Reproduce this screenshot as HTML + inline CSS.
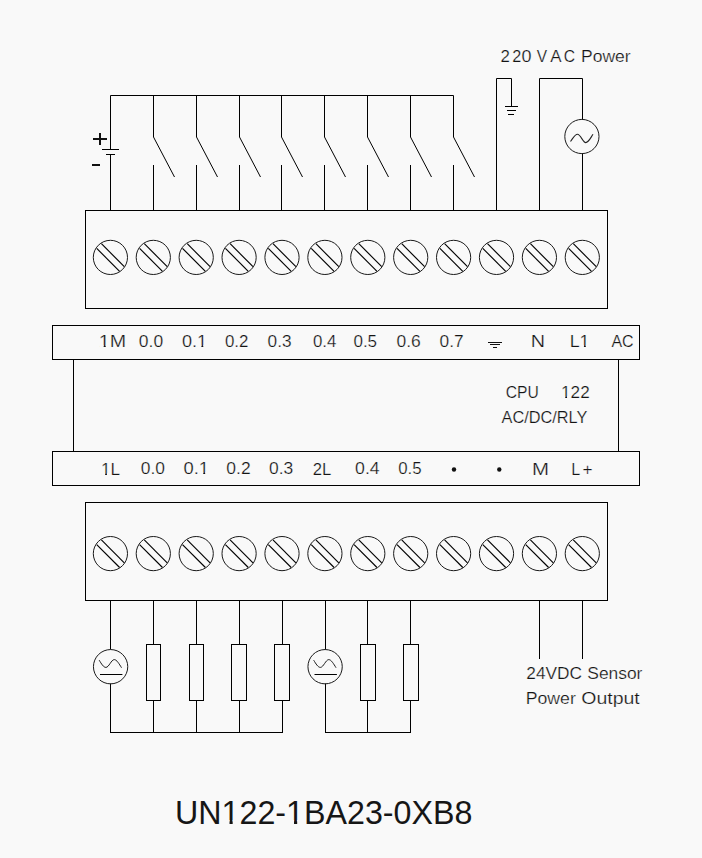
<!DOCTYPE html>
<html><head><meta charset="utf-8"><style>
html,body{margin:0;padding:0;background:#f9f9f9;}
body{width:702px;height:858px;overflow:hidden;}
svg{display:block;}
text{font-family:"Liberation Sans",sans-serif;}
text.s{stroke:#f9f9f9;stroke-width:0.22px;}
</style></head><body>
<svg width="702" height="858" viewBox="0 0 702 858">
<rect width="702" height="858" fill="#f9f9f9"/>
<polyline fill="none" stroke="#000" stroke-width="1" points="110.5,149 110.5,95.5 453.5,95.5"/>
<line x1="110.5" y1="154" x2="110.5" y2="210" stroke="#000" stroke-width="1"/>
<line x1="102" y1="149.5" x2="119" y2="149.5" stroke="#000" stroke-width="1"/>
<line x1="106" y1="154.5" x2="115" y2="154.5" stroke="#000" stroke-width="1"/>
<rect x="93" y="138" width="14" height="2" fill="#111"/>
<rect x="99" y="133" width="2" height="12" fill="#111"/>
<rect x="92" y="164" width="8" height="2" fill="#111"/>
<polyline fill="none" stroke="#000" stroke-width="1" points="153.5,95.5 153.5,137 174.5,177"/>
<line x1="153.5" y1="165" x2="153.5" y2="210" stroke="#000" stroke-width="1"/>
<polyline fill="none" stroke="#000" stroke-width="1" points="196.5,95.5 196.5,137 217.5,177"/>
<line x1="196.5" y1="165" x2="196.5" y2="210" stroke="#000" stroke-width="1"/>
<polyline fill="none" stroke="#000" stroke-width="1" points="239.5,95.5 239.5,137 260.5,177"/>
<line x1="239.5" y1="165" x2="239.5" y2="210" stroke="#000" stroke-width="1"/>
<polyline fill="none" stroke="#000" stroke-width="1" points="281.5,95.5 281.5,137 302.5,177"/>
<line x1="281.5" y1="165" x2="281.5" y2="210" stroke="#000" stroke-width="1"/>
<polyline fill="none" stroke="#000" stroke-width="1" points="324.5,95.5 324.5,137 345.5,177"/>
<line x1="324.5" y1="165" x2="324.5" y2="210" stroke="#000" stroke-width="1"/>
<polyline fill="none" stroke="#000" stroke-width="1" points="367.5,95.5 367.5,137 388.5,177"/>
<line x1="367.5" y1="165" x2="367.5" y2="210" stroke="#000" stroke-width="1"/>
<polyline fill="none" stroke="#000" stroke-width="1" points="410.5,95.5 410.5,137 431.5,177"/>
<line x1="410.5" y1="165" x2="410.5" y2="210" stroke="#000" stroke-width="1"/>
<polyline fill="none" stroke="#000" stroke-width="1" points="453.5,95.5 453.5,137 474.5,177"/>
<line x1="453.5" y1="165" x2="453.5" y2="210" stroke="#000" stroke-width="1"/>
<polyline fill="none" stroke="#000" stroke-width="1" points="496.5,210 496.5,78.5 511.5,78.5 511.5,106.5"/>
<line x1="505" y1="106.5" x2="518" y2="106.5" stroke="#000" stroke-width="1"/>
<line x1="507" y1="110.5" x2="516" y2="110.5" stroke="#000" stroke-width="1"/>
<line x1="508" y1="114.5" x2="514" y2="114.5" stroke="#000" stroke-width="1"/>
<polyline fill="none" stroke="#000" stroke-width="1" points="539.5,210 539.5,78.5 582.5,78.5 582.5,119.5"/>
<line x1="582.5" y1="153.5" x2="582.5" y2="210" stroke="#000" stroke-width="1"/>
<circle cx="581.9" cy="136.5" r="17.1" fill="none" stroke="#1a1a1a" stroke-width="1"/>
<path d="M570.5,141.5 C573.5,137.5 575,134.3 577.5,134.3 C580.5,134.3 583,142.6 585.7,142.6 C588.5,142.6 590.5,138 593,134.3" fill="none" stroke="#222" stroke-width="1.1"/>
<rect x="85.5" y="210.5" width="522" height="98" fill="none" stroke="#000" stroke-width="1"/>
<circle cx="110.4" cy="257.4" r="17.1" fill="none" stroke="#1a1a1a" stroke-width="1"/>
<line x1="96.7" y1="248.4" x2="119.6" y2="271.3" stroke="#000" stroke-width="1.15"/>
<line x1="101.4" y1="243.7" x2="124.3" y2="266.6" stroke="#000" stroke-width="1.15"/>
<circle cx="153.3" cy="257.4" r="17.1" fill="none" stroke="#1a1a1a" stroke-width="1"/>
<line x1="139.6" y1="248.4" x2="162.5" y2="271.3" stroke="#000" stroke-width="1.15"/>
<line x1="144.3" y1="243.7" x2="167.2" y2="266.6" stroke="#000" stroke-width="1.15"/>
<circle cx="196.2" cy="257.4" r="17.1" fill="none" stroke="#1a1a1a" stroke-width="1"/>
<line x1="182.5" y1="248.4" x2="205.4" y2="271.3" stroke="#000" stroke-width="1.15"/>
<line x1="187.2" y1="243.7" x2="210.1" y2="266.6" stroke="#000" stroke-width="1.15"/>
<circle cx="239.1" cy="257.4" r="17.1" fill="none" stroke="#1a1a1a" stroke-width="1"/>
<line x1="225.4" y1="248.4" x2="248.3" y2="271.3" stroke="#000" stroke-width="1.15"/>
<line x1="230.1" y1="243.7" x2="253" y2="266.6" stroke="#000" stroke-width="1.15"/>
<circle cx="282" cy="257.4" r="17.1" fill="none" stroke="#1a1a1a" stroke-width="1"/>
<line x1="268.3" y1="248.4" x2="291.2" y2="271.3" stroke="#000" stroke-width="1.15"/>
<line x1="273" y1="243.7" x2="295.9" y2="266.6" stroke="#000" stroke-width="1.15"/>
<circle cx="324.9" cy="257.4" r="17.1" fill="none" stroke="#1a1a1a" stroke-width="1"/>
<line x1="311.2" y1="248.4" x2="334.1" y2="271.3" stroke="#000" stroke-width="1.15"/>
<line x1="315.9" y1="243.7" x2="338.8" y2="266.6" stroke="#000" stroke-width="1.15"/>
<circle cx="367.8" cy="257.4" r="17.1" fill="none" stroke="#1a1a1a" stroke-width="1"/>
<line x1="354.1" y1="248.4" x2="377" y2="271.3" stroke="#000" stroke-width="1.15"/>
<line x1="358.8" y1="243.7" x2="381.7" y2="266.6" stroke="#000" stroke-width="1.15"/>
<circle cx="410.7" cy="257.4" r="17.1" fill="none" stroke="#1a1a1a" stroke-width="1"/>
<line x1="397" y1="248.4" x2="419.9" y2="271.3" stroke="#000" stroke-width="1.15"/>
<line x1="401.7" y1="243.7" x2="424.6" y2="266.6" stroke="#000" stroke-width="1.15"/>
<circle cx="453.6" cy="257.4" r="17.1" fill="none" stroke="#1a1a1a" stroke-width="1"/>
<line x1="439.9" y1="248.4" x2="462.8" y2="271.3" stroke="#000" stroke-width="1.15"/>
<line x1="444.6" y1="243.7" x2="467.5" y2="266.6" stroke="#000" stroke-width="1.15"/>
<circle cx="496.5" cy="257.4" r="17.1" fill="none" stroke="#1a1a1a" stroke-width="1"/>
<line x1="482.8" y1="248.4" x2="505.7" y2="271.3" stroke="#000" stroke-width="1.15"/>
<line x1="487.5" y1="243.7" x2="510.4" y2="266.6" stroke="#000" stroke-width="1.15"/>
<circle cx="539.4" cy="257.4" r="17.1" fill="none" stroke="#1a1a1a" stroke-width="1"/>
<line x1="525.7" y1="248.4" x2="548.6" y2="271.3" stroke="#000" stroke-width="1.15"/>
<line x1="530.4" y1="243.7" x2="553.3" y2="266.6" stroke="#000" stroke-width="1.15"/>
<circle cx="582.3" cy="257.4" r="17.1" fill="none" stroke="#1a1a1a" stroke-width="1"/>
<line x1="568.6" y1="248.4" x2="591.5" y2="271.3" stroke="#000" stroke-width="1.15"/>
<line x1="573.3" y1="243.7" x2="596.2" y2="266.6" stroke="#000" stroke-width="1.15"/>
<rect x="52.5" y="325.5" width="587" height="34" fill="none" stroke="#000" stroke-width="1"/>
<line x1="73.5" y1="359.5" x2="73.5" y2="451.5" stroke="#000" stroke-width="1"/>
<line x1="618.5" y1="359.5" x2="618.5" y2="451.5" stroke="#000" stroke-width="1"/>
<rect x="52.5" y="451.5" width="587" height="34" fill="none" stroke="#000" stroke-width="1"/>
<rect x="85.5" y="502.5" width="522" height="98" fill="none" stroke="#000" stroke-width="1"/>
<circle cx="110.4" cy="553.6" r="17.1" fill="none" stroke="#1a1a1a" stroke-width="1"/>
<line x1="96.7" y1="544.6" x2="119.6" y2="567.5" stroke="#000" stroke-width="1.15"/>
<line x1="101.4" y1="539.9" x2="124.3" y2="562.8" stroke="#000" stroke-width="1.15"/>
<circle cx="153.3" cy="553.6" r="17.1" fill="none" stroke="#1a1a1a" stroke-width="1"/>
<line x1="139.6" y1="544.6" x2="162.5" y2="567.5" stroke="#000" stroke-width="1.15"/>
<line x1="144.3" y1="539.9" x2="167.2" y2="562.8" stroke="#000" stroke-width="1.15"/>
<circle cx="196.2" cy="553.6" r="17.1" fill="none" stroke="#1a1a1a" stroke-width="1"/>
<line x1="182.5" y1="544.6" x2="205.4" y2="567.5" stroke="#000" stroke-width="1.15"/>
<line x1="187.2" y1="539.9" x2="210.1" y2="562.8" stroke="#000" stroke-width="1.15"/>
<circle cx="239.1" cy="553.6" r="17.1" fill="none" stroke="#1a1a1a" stroke-width="1"/>
<line x1="225.4" y1="544.6" x2="248.3" y2="567.5" stroke="#000" stroke-width="1.15"/>
<line x1="230.1" y1="539.9" x2="253" y2="562.8" stroke="#000" stroke-width="1.15"/>
<circle cx="282" cy="553.6" r="17.1" fill="none" stroke="#1a1a1a" stroke-width="1"/>
<line x1="268.3" y1="544.6" x2="291.2" y2="567.5" stroke="#000" stroke-width="1.15"/>
<line x1="273" y1="539.9" x2="295.9" y2="562.8" stroke="#000" stroke-width="1.15"/>
<circle cx="324.9" cy="553.6" r="17.1" fill="none" stroke="#1a1a1a" stroke-width="1"/>
<line x1="311.2" y1="544.6" x2="334.1" y2="567.5" stroke="#000" stroke-width="1.15"/>
<line x1="315.9" y1="539.9" x2="338.8" y2="562.8" stroke="#000" stroke-width="1.15"/>
<circle cx="367.8" cy="553.6" r="17.1" fill="none" stroke="#1a1a1a" stroke-width="1"/>
<line x1="354.1" y1="544.6" x2="377" y2="567.5" stroke="#000" stroke-width="1.15"/>
<line x1="358.8" y1="539.9" x2="381.7" y2="562.8" stroke="#000" stroke-width="1.15"/>
<circle cx="410.7" cy="553.6" r="17.1" fill="none" stroke="#1a1a1a" stroke-width="1"/>
<line x1="397" y1="544.6" x2="419.9" y2="567.5" stroke="#000" stroke-width="1.15"/>
<line x1="401.7" y1="539.9" x2="424.6" y2="562.8" stroke="#000" stroke-width="1.15"/>
<circle cx="453.6" cy="553.6" r="17.1" fill="none" stroke="#1a1a1a" stroke-width="1"/>
<line x1="439.9" y1="544.6" x2="462.8" y2="567.5" stroke="#000" stroke-width="1.15"/>
<line x1="444.6" y1="539.9" x2="467.5" y2="562.8" stroke="#000" stroke-width="1.15"/>
<circle cx="496.5" cy="553.6" r="17.1" fill="none" stroke="#1a1a1a" stroke-width="1"/>
<line x1="482.8" y1="544.6" x2="505.7" y2="567.5" stroke="#000" stroke-width="1.15"/>
<line x1="487.5" y1="539.9" x2="510.4" y2="562.8" stroke="#000" stroke-width="1.15"/>
<circle cx="539.4" cy="553.6" r="17.1" fill="none" stroke="#1a1a1a" stroke-width="1"/>
<line x1="525.7" y1="544.6" x2="548.6" y2="567.5" stroke="#000" stroke-width="1.15"/>
<line x1="530.4" y1="539.9" x2="553.3" y2="562.8" stroke="#000" stroke-width="1.15"/>
<circle cx="582.3" cy="553.6" r="17.1" fill="none" stroke="#1a1a1a" stroke-width="1"/>
<line x1="568.6" y1="544.6" x2="591.5" y2="567.5" stroke="#000" stroke-width="1.15"/>
<line x1="573.3" y1="539.9" x2="596.2" y2="562.8" stroke="#000" stroke-width="1.15"/>
<line x1="110.5" y1="600.5" x2="110.5" y2="649.5" stroke="#000" stroke-width="1"/>
<line x1="110.5" y1="683.5" x2="110.5" y2="732.5" stroke="#000" stroke-width="1"/>
<circle cx="110.6" cy="666.7" r="17.15" fill="none" stroke="#1a1a1a" stroke-width="1"/>
<path d="M99.2,660.2 C101.4,663.8 103.5,667.4 105.9,667.4 C108.9,667.4 111.3,659.6 114.3,659.6 C116.7,659.6 119.3,664.1 121.5,667.7" fill="none" stroke="#1a1a1a" stroke-width="1"/>
<line x1="100" y1="674.5" x2="122.4" y2="674.5" stroke="#000" stroke-width="1"/>
<line x1="325.5" y1="600.5" x2="325.5" y2="649.5" stroke="#000" stroke-width="1"/>
<line x1="325.5" y1="683.5" x2="325.5" y2="732.5" stroke="#000" stroke-width="1"/>
<circle cx="325.1" cy="666.7" r="17.15" fill="none" stroke="#1a1a1a" stroke-width="1"/>
<path d="M313.7,660.2 C315.9,663.8 318,667.4 320.4,667.4 C323.4,667.4 325.8,659.6 328.8,659.6 C331.2,659.6 333.8,664.1 336,667.7" fill="none" stroke="#1a1a1a" stroke-width="1"/>
<line x1="314.5" y1="674.5" x2="336.9" y2="674.5" stroke="#000" stroke-width="1"/>
<line x1="153.5" y1="600.5" x2="153.5" y2="644.5" stroke="#000" stroke-width="1"/>
<line x1="153.5" y1="700.5" x2="153.5" y2="732.5" stroke="#000" stroke-width="1"/>
<rect x="146.5" y="644.5" width="14" height="56" fill="none" stroke="#000" stroke-width="1"/>
<line x1="196.5" y1="600.5" x2="196.5" y2="644.5" stroke="#000" stroke-width="1"/>
<line x1="196.5" y1="700.5" x2="196.5" y2="732.5" stroke="#000" stroke-width="1"/>
<rect x="189.5" y="644.5" width="14" height="56" fill="none" stroke="#000" stroke-width="1"/>
<line x1="239.5" y1="600.5" x2="239.5" y2="644.5" stroke="#000" stroke-width="1"/>
<line x1="239.5" y1="700.5" x2="239.5" y2="732.5" stroke="#000" stroke-width="1"/>
<rect x="231.5" y="644.5" width="15" height="56" fill="none" stroke="#000" stroke-width="1"/>
<line x1="282.5" y1="600.5" x2="282.5" y2="644.5" stroke="#000" stroke-width="1"/>
<line x1="282.5" y1="700.5" x2="282.5" y2="732.5" stroke="#000" stroke-width="1"/>
<rect x="274.5" y="644.5" width="15" height="56" fill="none" stroke="#000" stroke-width="1"/>
<line x1="367.5" y1="600.5" x2="367.5" y2="644.5" stroke="#000" stroke-width="1"/>
<line x1="367.5" y1="700.5" x2="367.5" y2="732.5" stroke="#000" stroke-width="1"/>
<rect x="360.5" y="644.5" width="15" height="56" fill="none" stroke="#000" stroke-width="1"/>
<line x1="410.5" y1="600.5" x2="410.5" y2="644.5" stroke="#000" stroke-width="1"/>
<line x1="410.5" y1="700.5" x2="410.5" y2="732.5" stroke="#000" stroke-width="1"/>
<rect x="403.5" y="644.5" width="15" height="56" fill="none" stroke="#000" stroke-width="1"/>
<line x1="110" y1="732.5" x2="283" y2="732.5" stroke="#000" stroke-width="1"/>
<line x1="325" y1="732.5" x2="411" y2="732.5" stroke="#000" stroke-width="1"/>
<line x1="539.5" y1="600.5" x2="539.5" y2="659" stroke="#000" stroke-width="1"/>
<line x1="582.5" y1="600.5" x2="582.5" y2="659" stroke="#000" stroke-width="1"/>
<line x1="488" y1="342.5" x2="502" y2="342.5" stroke="#111" stroke-width="1"/>
<line x1="490" y1="344.5" x2="500" y2="344.5" stroke="#111" stroke-width="1"/>
<line x1="493" y1="347.5" x2="497" y2="347.5" stroke="#111" stroke-width="1"/>
<circle cx="454" cy="469.5" r="2.2" fill="#111"/>
<circle cx="499.3" cy="469.5" r="2.2" fill="#111"/>
<text class="s" x="500.6" y="62" font-size="16" fill="#141414" textLength="9.4" lengthAdjust="spacingAndGlyphs">2</text>
<text class="s" x="512.2" y="62" font-size="16" fill="#141414" textLength="9.05" lengthAdjust="spacingAndGlyphs">2</text>
<text class="s" x="521.52" y="62" font-size="16" fill="#141414" textLength="9.99" lengthAdjust="spacingAndGlyphs">0</text>
<text class="s" x="536.8" y="62" font-size="16" fill="#141414" textLength="10.32" lengthAdjust="spacingAndGlyphs">V</text>
<text class="s" x="550.25" y="62" font-size="16" fill="#141414" textLength="11.3" lengthAdjust="spacingAndGlyphs">A</text>
<text class="s" x="563.84" y="62" font-size="16" fill="#141414" textLength="11.28" lengthAdjust="spacingAndGlyphs">C</text>
<text class="s" x="581" y="62" font-size="16" fill="#141414" textLength="49.65" lengthAdjust="spacingAndGlyphs">Power</text>
<text class="s" x="98.87" y="347" font-size="16" fill="#141414" textLength="27.33" lengthAdjust="spacingAndGlyphs">1M</text>
<text class="s" x="138.87" y="347" font-size="16" fill="#141414" textLength="24.27" lengthAdjust="spacingAndGlyphs">0.0</text>
<text class="s" x="181.91" y="347" font-size="16" fill="#141414" textLength="25.13" lengthAdjust="spacingAndGlyphs">0.1</text>
<text class="s" x="224.95" y="347" font-size="16" fill="#141414" textLength="23.52" lengthAdjust="spacingAndGlyphs">0.2</text>
<text class="s" x="267.61" y="347" font-size="16" fill="#141414" textLength="23.95" lengthAdjust="spacingAndGlyphs">0.3</text>
<text class="s" x="312.9" y="347" font-size="16" fill="#141414" textLength="23.43" lengthAdjust="spacingAndGlyphs">0.4</text>
<text class="s" x="353.41" y="347" font-size="16" fill="#141414" textLength="23.68" lengthAdjust="spacingAndGlyphs">0.5</text>
<text class="s" x="396.57" y="347" font-size="16" fill="#141414" textLength="24.25" lengthAdjust="spacingAndGlyphs">0.6</text>
<text class="s" x="439.52" y="347" font-size="16" fill="#141414" textLength="24.08" lengthAdjust="spacingAndGlyphs">0.7</text>
<text class="s" x="530.79" y="347" font-size="16" fill="#141414" textLength="14.29" lengthAdjust="spacingAndGlyphs">N</text>
<text class="s" x="569.67" y="347" font-size="16" fill="#141414" textLength="19.86" lengthAdjust="spacingAndGlyphs">L1</text>
<text class="s" x="611.48" y="347" font-size="16" fill="#141414" textLength="22.18" lengthAdjust="spacingAndGlyphs">AC</text>
<text class="s" x="505.8" y="398" font-size="16" fill="#141414" textLength="33.03" lengthAdjust="spacingAndGlyphs">CPU</text>
<text class="s" x="561.06" y="398" font-size="16" fill="#141414" textLength="28.66" lengthAdjust="spacingAndGlyphs">122</text>
<text class="s" x="501.64" y="423" font-size="16" fill="#141414" textLength="85.72" lengthAdjust="spacingAndGlyphs">AC/DC/RLY</text>
<text class="s" x="100.96" y="475" font-size="16" fill="#141414" textLength="19.09" lengthAdjust="spacingAndGlyphs">1L</text>
<text class="s" x="140.84" y="474" font-size="16" fill="#141414" textLength="24.18" lengthAdjust="spacingAndGlyphs">0.0</text>
<text class="s" x="183.45" y="474" font-size="16" fill="#141414" textLength="25.54" lengthAdjust="spacingAndGlyphs">0.1</text>
<text class="s" x="226.3" y="474" font-size="16" fill="#141414" textLength="24.34" lengthAdjust="spacingAndGlyphs">0.2</text>
<text class="s" x="269.09" y="474" font-size="16" fill="#141414" textLength="24.23" lengthAdjust="spacingAndGlyphs">0.3</text>
<text class="s" x="312.68" y="475" font-size="16" fill="#141414" textLength="18.54" lengthAdjust="spacingAndGlyphs">2L</text>
<text class="s" x="355.08" y="474" font-size="16" fill="#141414" textLength="24.6" lengthAdjust="spacingAndGlyphs">0.4</text>
<text class="s" x="398.17" y="474" font-size="16" fill="#141414" textLength="23.4" lengthAdjust="spacingAndGlyphs">0.5</text>
<text class="s" x="531.95" y="475" font-size="16" fill="#141414" textLength="17.03" lengthAdjust="spacingAndGlyphs">M</text>
<text class="s" x="571.17" y="475" font-size="16" fill="#141414" textLength="8.96" lengthAdjust="spacingAndGlyphs">L</text>
<text class="s" x="582.58" y="475" font-size="16" fill="#141414" textLength="10.03" lengthAdjust="spacingAndGlyphs">+</text>
<text class="s" x="526.39" y="679" font-size="16" fill="#141414" textLength="55.64" lengthAdjust="spacingAndGlyphs">24VDC</text>
<text class="s" x="587.3" y="679" font-size="16" fill="#141414" textLength="55.05" lengthAdjust="spacingAndGlyphs">Sensor</text>
<text class="s" x="525.74" y="704" font-size="16" fill="#141414" textLength="50.1" lengthAdjust="spacingAndGlyphs">Power</text>
<text class="s" x="581.22" y="704" font-size="16" fill="#141414" textLength="58.55" lengthAdjust="spacingAndGlyphs">Output</text>
<text x="175.03" y="824" font-size="34" fill="#161616" textLength="297.35" lengthAdjust="spacingAndGlyphs">UN122-1BA23-0XB8</text>
<rect x="99.45" y="345" width="4.22" height="3" fill="#f9f9f9"/>
<rect x="105.71" y="345" width="4.17" height="3" fill="#f9f9f9"/>
<rect x="197.51" y="345" width="3.87" height="3" fill="#f9f9f9"/>
<rect x="203.28" y="345" width="3.83" height="3" fill="#f9f9f9"/>
<rect x="580.11" y="345" width="3.82" height="3" fill="#f9f9f9"/>
<rect x="585.81" y="345" width="3.79" height="3" fill="#f9f9f9"/>
<rect x="561.56" y="396" width="3.67" height="3" fill="#f9f9f9"/>
<rect x="567.05" y="396" width="3.64" height="3" fill="#f9f9f9"/>
<rect x="101.46" y="473" width="3.67" height="3" fill="#f9f9f9"/>
<rect x="106.95" y="473" width="3.64" height="3" fill="#f9f9f9"/>
<rect x="199.31" y="472" width="3.93" height="3" fill="#f9f9f9"/>
<rect x="205.16" y="472" width="3.9" height="3" fill="#f9f9f9"/>
<rect x="222.5" y="820" width="7.02" height="5" fill="#f9f9f9"/>
<rect x="232.67" y="820" width="6.84" height="5" fill="#f9f9f9"/>
<rect x="287.01" y="820" width="7.01" height="5" fill="#f9f9f9"/>
<rect x="297.17" y="820" width="6.83" height="5" fill="#f9f9f9"/>
</svg>
</body></html>
